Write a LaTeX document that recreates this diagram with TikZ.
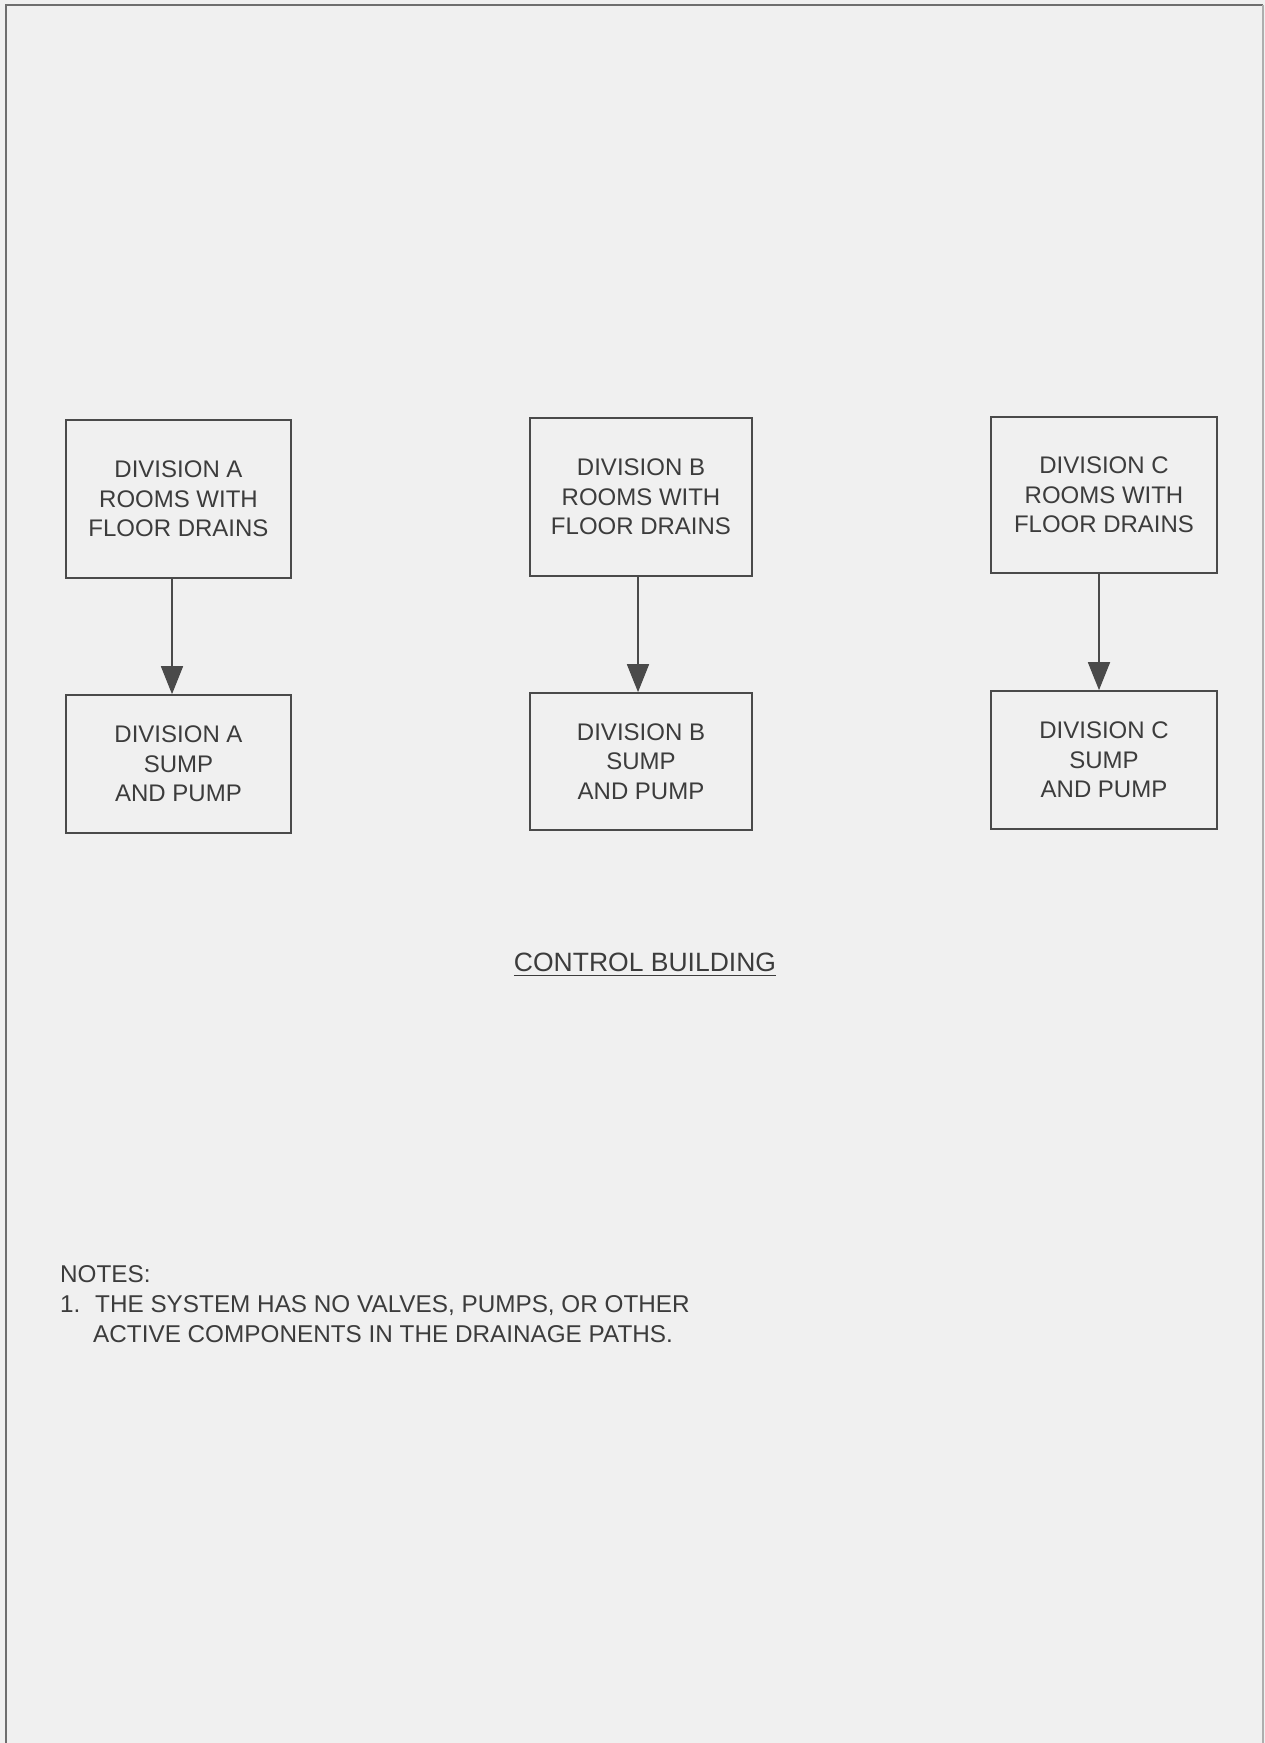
\documentclass[tikz,border=0pt]{standalone}
\usepackage{fontspec}
\setmainfont{Liberation Sans}
\usetikzlibrary{arrows.meta,calc}
\definecolor{paper}{HTML}{F0F0F0}
\definecolor{ink}{HTML}{4A4A4A}
\definecolor{txt}{HTML}{3C3C3C}
\begin{document}
\begin{tikzpicture}[x=1pt,y=-1pt,
  box/.style={draw=ink,line width=1.7pt,inner sep=0pt,align=center,text=txt,
    font=\fontsize{24}{29.5}\selectfont},
  arr/.style={draw=ink,line width=1.7pt,-{Triangle[width=22pt,length=28pt]}},
  frame/.style={draw=ink!80,line width=1.6pt},
  note/.style={inner sep=0pt,anchor=base west,text=txt,font=\fontsize{24.3}{30}\selectfont}]
\fill[paper] (0,0) rectangle (1265,1743);
\useasboundingbox (0,0) rectangle (1265,1743);
\draw[frame] (6,1743) -- (6,5) -- (1263,5);
\draw[draw=ink!45,line width=1.2pt] (1263,5) -- (1263,1743);

\node[box,minimum width=225pt,minimum height=158pt] (a1) at (178.5,499) {DIVISION A\\ROOMS WITH\\FLOOR DRAINS};
\node[box,minimum width=225pt,minimum height=138pt] (a2) at (178.5,764) {DIVISION A\\SUMP\\AND PUMP};
\node[box,minimum width=222pt,minimum height=158pt] (b1) at (641,497) {DIVISION B\\ROOMS WITH\\FLOOR DRAINS};
\node[box,minimum width=222pt,minimum height=137pt] (b2) at (641,761.5) {DIVISION B\\SUMP\\AND PUMP};
\node[box,minimum width=226pt,minimum height=156pt] (c1) at (1104,495) {DIVISION C\\ROOMS WITH\\FLOOR DRAINS};
\node[box,minimum width=226pt,minimum height=138pt] (c2) at (1104,760) {DIVISION C\\SUMP\\AND PUMP};

\coordinate (xa) at (172,0);
\coordinate (xb) at (638,0);
\coordinate (xc) at (1099,0);
\draw[arr] (a1.south -| xa) -- (a2.north -| xa);
\draw[arr] (b1.south -| xb) -- (b2.north -| xb);
\draw[arr] (c1.south -| xc) -- (c2.north -| xc);

\node[inner sep=0pt,anchor=base,text=txt,font=\fontsize{26.5}{30}\selectfont] (cb) at (645,971) {CONTROL BUILDING};
\draw[draw=txt,line width=1.3pt] ($(cb.base west)+(0,4.5)$) -- ($(cb.base east)+(0,4.5)$);

\node[note] (notes) at (60,1282) {NOTES:};
\node[note] (n1a) at (60,1312) {1.};
\node[note] (n1b) at (95,1312) {THE SYSTEM HAS NO VALVES, PUMPS, OR OTHER};
\node[note] (n1c) at (93,1342) {ACTIVE COMPONENTS IN THE DRAINAGE PATHS.};
\end{tikzpicture}
\end{document}
